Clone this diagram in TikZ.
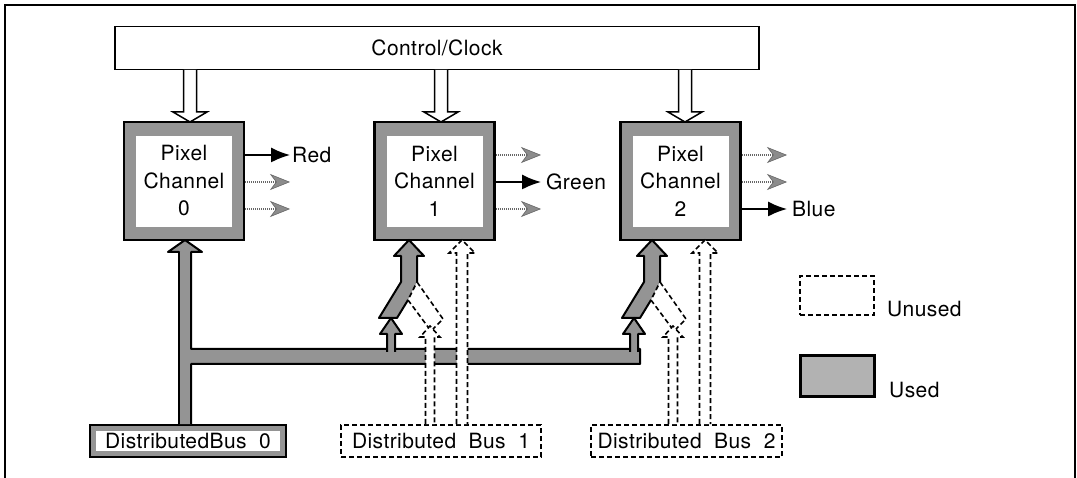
\documentclass[tikz,border=0pt]{standalone}
\usepackage{fontspec}
\setmainfont{TeX Gyre Heros}[LetterSpace=2]
\usetikzlibrary{arrows.meta,calc}
\colorlet{usedgray}{black!42}
\colorlet{legendgray}{black!30}
\tikzset{
  lbl/.style={font=\fontsize{21}{27.5}\selectfont, inner sep=0pt},
  frameline/.style={line width=1.5pt},
  ctrlbox/.style={draw, line width=1.5pt, minimum width=644pt, minimum height=43pt, lbl},
  pcbox/.style={draw=black, line width=2.5pt, fill=usedgray, minimum width=120pt, minimum height=118pt,
    lbl, align=center,
    path picture={\fill[white] ([shift={(12pt,13pt)}]path picture bounding box.south west)
      rectangle ([shift={(-12pt,-14pt)}]path picture bounding box.north east);}},
  usedbus/.style={draw=black, line width=2.5pt, fill=usedgray, minimum height=32pt, lbl,
    path picture={\fill[white] ([shift={(6pt,6pt)}]path picture bounding box.south west)
      rectangle ([shift={(-6pt,-6pt)}]path picture bounding box.north east);}},
  unusedline/.style={draw=black, line width=1.6pt, dash pattern=on 5pt off 3pt},
  unusedbus/.style={unusedline, minimum height=32pt, lbl},
  usedline/.style={draw=black, line width=2pt, line join=round},
  hollowline/.style={draw=black, line width=1.5pt, line join=miter},
  solidout/.style={line width=1.5pt, -{Latex[length=19pt,width=15pt]}},
  dotout/.style={draw=black!60, line width=1.2pt, dash pattern=on 1pt off 1pt,
    -{Stealth[length=20pt,width=16pt,inset=6pt,fill=black!45,color=black!60,line width=0.6pt]}},
}
% block arrow: #1 outline style, #2 fill colour, #3 x, #4 tail y, #5 head base y, #6 tip y, #7 shaft half, #8 head half
\newcommand{\blockarr}[8]{%
  \fill[fill=#2] (#3-#7,#4) -- (#3-#7,#5) -- (#3-#8,#5) -- (#3,#6) -- (#3+#8,#5) -- (#3+#7,#5) -- (#3+#7,#4) -- cycle;
  \draw[#1] (#3-#7,#4) -- (#3-#7,#5) -- (#3-#8,#5) -- (#3,#6) -- (#3+#8,#5) -- (#3+#7,#5) -- (#3+#7,#4);}
% Y-shaped merge under a pixel channel, main arrow at x=#1
\newcommand{\ymerge}[1]{%
  \fill[fill=usedgray] (#1,240) -- (#1+15,256) -- (#1+8,256) -- (#1+8,282) -- (#1-1,300) -- (#1-12,318)
     -- (#1-30,318) -- (#1-8,282) -- (#1-8,256) -- (#1-15,256) -- cycle;
  \draw[usedline] (#1+8,282) -- (#1+8,256) -- (#1+15,256) -- (#1,240) -- (#1-15,256) -- (#1-8,256)
     -- (#1-8,282) -- (#1-30,318) -- (#1-12,318) -- (#1-1,300);
  \filldraw[unusedline, fill=white] (#1+8,282) -- (#1+34,319) -- (#1+22,331) -- (#1-1,300) -- cycle;
  \blockarr{usedline}{usedgray}{#1-18}{352}{334}{318}{4}{11}
  \blockarr{unusedline}{white}{#1+21}{424}{337}{326}{4.5}{10}
  \blockarr{unusedline}{white}{#1+53}{424}{253}{240}{5.5}{13}
}
\begin{document}
\begin{tikzpicture}[x=1pt,y=-1pt]
\useasboundingbox (0,0) rectangle (1077,478);
% outer frame
\draw[frameline] (5,478) -- (5,5) -- (1075,5) -- (1075,478);

% control / clock
\node[ctrlbox] (ctrl) at (437,48) {Control/Clock};

% pixel channels
\node[pcbox] (b0) at (184,181) {Pixel\\Channel\\0};
\node[pcbox] (b1) at (434.5,181) {Pixel\\Channel\\1};
\node[pcbox] (b2) at (680.5,181) {Pixel\\Channel\\2};

% control arrows
\blockarr{hollowline}{white}{190}{70}{112}{122}{6.5}{17}
\blockarr{hollowline}{white}{441}{70}{112}{122}{6.5}{17}
\blockarr{hollowline}{white}{685}{70}{112}{122}{6.5}{17}

% outputs channel 0
\coordinate (o0a) at (290,155);
\coordinate (o0b) at (290,182);
\coordinate (o0c) at (290,209);
\draw[solidout] (b0.east |- o0a) -- (o0a);
\node[lbl, anchor=west] (red) at ([xshift=2pt]o0a) {Red};
\draw[dotout] (b0.east |- o0b) -- (o0b);
\draw[dotout] (b0.east |- o0c) -- (o0c);
% outputs channel 1
\coordinate (o1a) at (541,155);
\coordinate (o1b) at (541,182);
\coordinate (o1c) at (541,209);
\draw[dotout] (b1.east |- o1a) -- (o1a);
\draw[solidout] (b1.east |- o1b) -- (o1b);
\node[lbl, anchor=west] (green) at ([xshift=5pt]o1b) {Green};
\draw[dotout] (b1.east |- o1c) -- (o1c);
% outputs channel 2
\coordinate (o2a) at (787,155);
\coordinate (o2b) at (787,182);
\coordinate (o2c) at (787,209);
\draw[dotout] (b2.east |- o2a) -- (o2a);
\draw[dotout] (b2.east |- o2b) -- (o2b);
\draw[solidout] (b2.east |- o2c) -- (o2c);
\node[lbl, anchor=west] (blue) at ([xshift=5pt]o2c) {Blue};

% distributed buses
\node[usedbus, minimum width=196pt] (d0) at (188,441) {DistributedBus\ \ 0};
\node[unusedbus, minimum width=200pt] (d1) at (441,441) {Distributed\ \ Bus\ \ 1};
\node[unusedbus, minimum width=191pt] (d2) at (686.5,441) {Distributed\ \ Bus\ \ 2};

% used bus 0: vertical arrow + horizontal bus
\filldraw[usedline, fill=usedgray] (179,424) -- (179,252) -- (168,252) -- (185,240) -- (202,252) -- (191,252)
  -- (191,349) -- (640,349) -- (640,364) -- (191,364) -- (191,424);
\fill[fill=usedgray] (179.8,424) rectangle (190.2,252);

% merges into channels 1 and 2
\ymerge{409}
\ymerge{652}

% legend
\node[unusedline, minimum width=74pt, minimum height=39pt] (lu) at (837,295.5) {};
\node[lbl, anchor=west] (lut) at (887,309) {Unused};
\node[draw=black, line width=3pt, fill=legendgray, minimum width=74pt, minimum height=41pt] (lus) at (837,376.5) {};
\node[lbl, anchor=west] (lst) at (889,390) {Used};
\end{tikzpicture}
\end{document}
